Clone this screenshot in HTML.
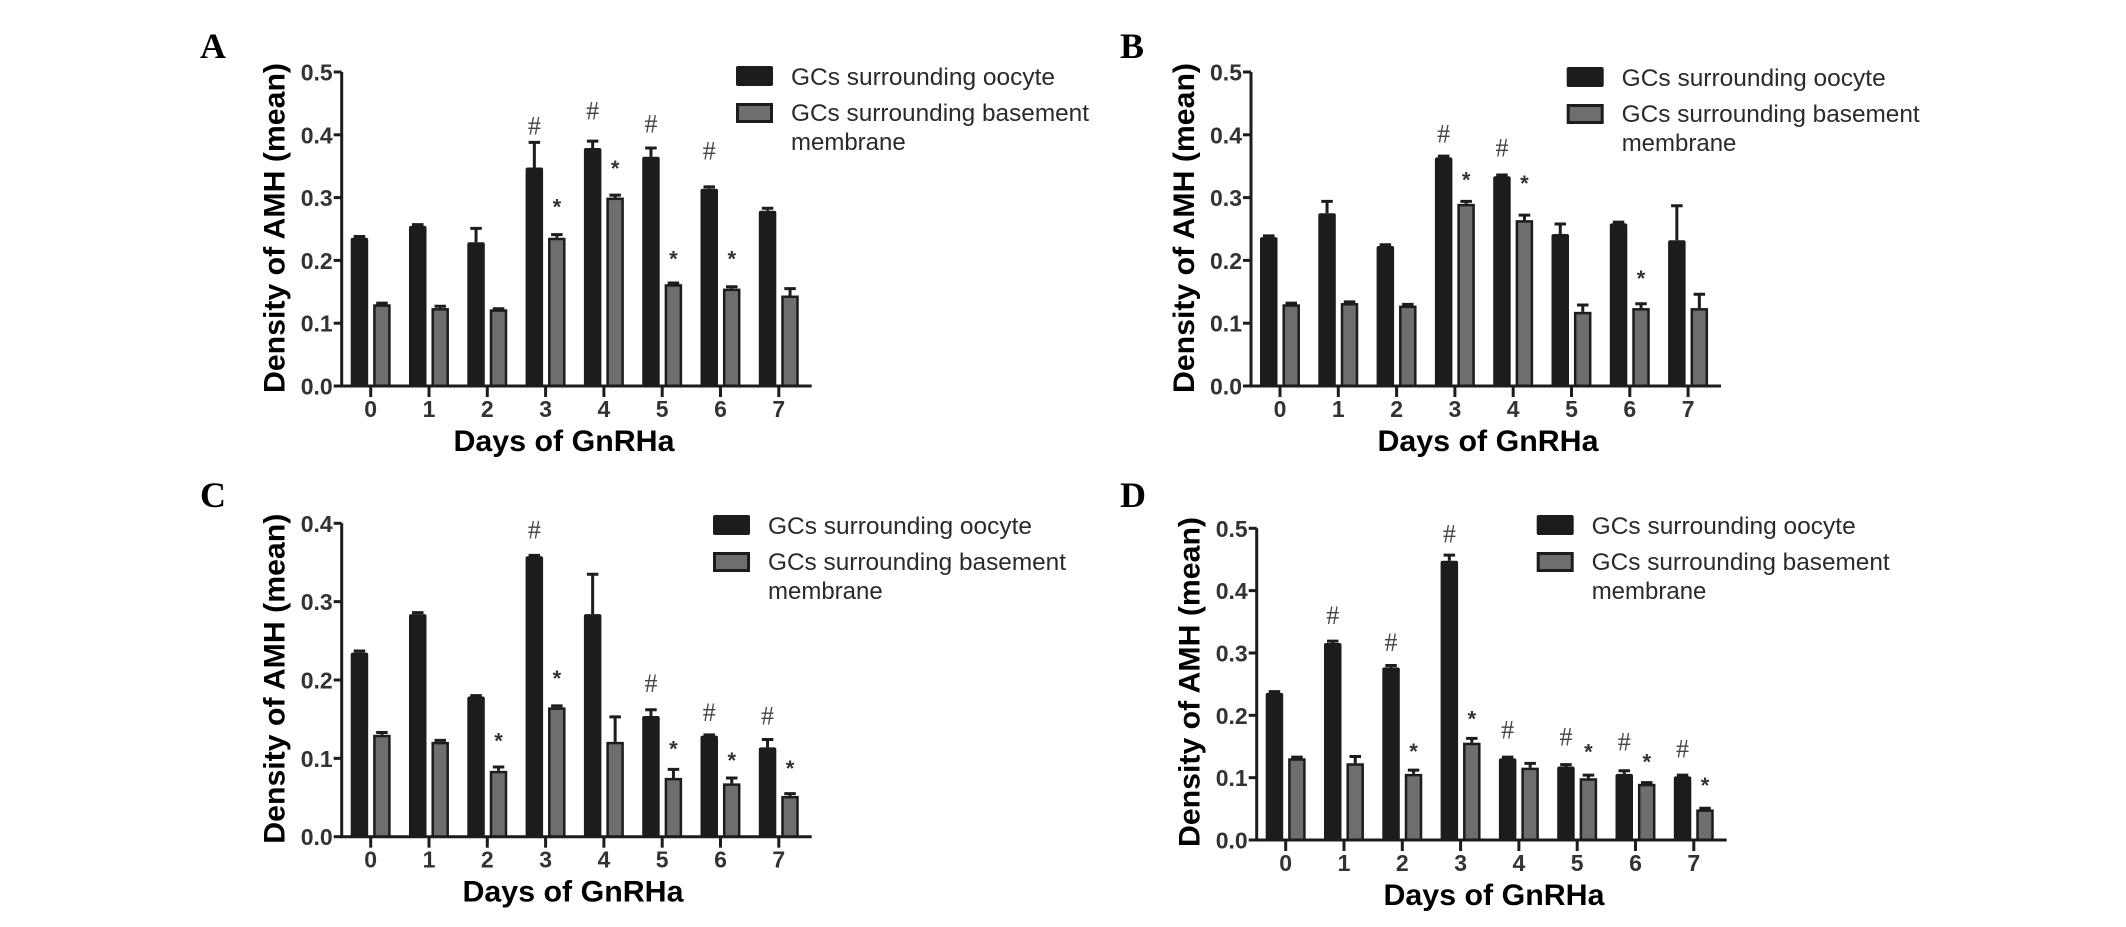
<!DOCTYPE html>
<html><head><meta charset="utf-8"><title>AMH density charts</title>
<style>html,body{margin:0;padding:0;background:#fff;}svg{display:block;}</style></head>
<body>
<svg id="fig" xmlns="http://www.w3.org/2000/svg" width="2126" height="927" viewBox="0 0 2126 927"></svg>
<script>
// ---------- data ----------
const categories = ["0","1","2","3","4","5","6","7"];
const seriesNames = ["GCs surrounding oocyte","GCs surrounding basement"];

const aBlack    = [0.236,0.255,0.229,0.348,0.379,0.365,0.314,0.279];
const aBlackErr = [0.002,0.002,0.022,0.040,0.011,0.014,0.003,0.004];
const aGray     = [0.130,0.124,0.122,0.236,0.300,0.162,0.155,0.144];
const aGrayErr  = [0.002,0.003,0.001,0.005,0.004,0.002,0.003,0.011];
const aHash     = [null,null,null,0.415,0.439,0.418,0.375,null];
const aStar     = [null,null,null,0.294,0.355,0.211,0.211,null];

const bBlack    = [0.237,0.275,0.223,0.364,0.334,0.242,0.259,0.232];
const bBlackErr = [0.002,0.019,0.002,0.002,0.002,0.016,0.002,0.055];
const bGray     = [0.130,0.132,0.128,0.290,0.264,0.118,0.124,0.124];
const bGrayErr  = [0.002,0.002,0.002,0.004,0.008,0.011,0.007,0.022];
const bHash     = [null,null,null,0.402,0.380,null,null,null];
const bStar     = [null,null,null,0.337,0.331,null,0.180,null];

const cBlack    = [0.235,0.284,0.179,0.358,0.284,0.154,0.129,0.114];
const cBlackErr = [0.002,0.002,0.001,0.001,0.051,0.008,0.001,0.010];
const cGray     = [0.130,0.121,0.084,0.165,0.121,0.075,0.068,0.052];
const cGrayErr  = [0.003,0.002,0.005,0.002,0.032,0.011,0.007,0.003];
const cHash     = [null,null,null,0.392,null,0.196,0.159,0.155];
const cStar     = [null,null,0.129,0.209,null,0.119,0.104,0.094];

const dBlack    = [0.236,0.316,0.277,0.448,0.131,0.118,0.106,0.102];
const dBlackErr = [0.002,0.003,0.003,0.009,0.002,0.003,0.005,0.002];
const dGray     = [0.131,0.123,0.106,0.156,0.116,0.099,0.090,0.049];
const dGrayErr  = [0.002,0.011,0.006,0.007,0.007,0.005,0.002,0.002];
const dHash     = [null,0.361,0.318,0.492,0.177,0.166,0.158,0.147];
const dStar     = [null,null,0.151,0.203,null,0.150,0.134,0.096];

const ticksAB = ["0.0","0.1","0.2","0.3","0.4","0.5"];
const ticksC  = ["0.0","0.1","0.2","0.3","0.4"];
const ticksD  = ["0.0","0.1","0.2","0.3","0.4","0.5"];

// ---------- layout ----------
const NS = "http://www.w3.org/2000/svg";
const svg = document.getElementById("fig");
function mk(tag, attrs, parent, text){
  const e = document.createElementNS(NS, tag);
  for (const k in attrs) e.setAttribute(k, attrs[k]);
  if (text !== undefined) e.textContent = text;
  (parent||svg).appendChild(e);
  return e;
}
const panels = [
  {id:"a", letter:"A", lx:200, ly:58, axX:341.7, base:386, top:72, ticks:ticksAB, black:aBlack, bErr:aBlackErr, gray:aGray, gErr:aGrayErr, hash:aHash, star:aStar, legX:736, legY:66, titleCx:564},
  {id:"b", letter:"B", lx:1120, ly:58, axX:1251, base:386, top:72, ticks:ticksAB, black:bBlack, bErr:bBlackErr, gray:bGray, gErr:bGrayErr, hash:bHash, star:bStar, legX:1566.7, legY:67, titleCx:1488},
  {id:"c", letter:"C", lx:200, ly:507, axX:341.7, base:836.7, top:523.3, ticks:ticksC, black:cBlack, bErr:cBlackErr, gray:cGray, gErr:cGrayErr, hash:cHash, star:cStar, legX:713, legY:515, titleCx:573},
  {id:"d", letter:"D", lx:1120, ly:507, axX:1256.7, base:840, top:528.3, ticks:ticksD, black:dBlack, bErr:dBlackErr, gray:dGray, gErr:dGrayErr, hash:dHash, star:dStar, legX:1536.7, legY:515, titleCx:1494}
];
const BLACK = "#1c1c1c", GRAY = "#6e6e6e";

panels.forEach(p => {
  const g = mk("g", {});
  
  
  const ymax = parseFloat(p.ticks[p.ticks.length-1]);
  const y = v => p.base - (v / ymax) * (p.base - p.top);
  const x = i => p.axX + 29 + 58.3 * i;

  const lt = mk("text", {x:p.lx, y:p.ly, "font-family":"Liberation Serif, serif", "font-weight":"bold", "font-size":36, fill:"#000"}, g, p.letter);
  
  

  // bars
  categories.forEach((c, i) => {
    const bx = x(i) - 20, gx = x(i) + 2.5;
    const bb = mk("rect", {x:bx, y:y(p.black[i]), width:17.5, height:p.base - y(p.black[i]), fill:BLACK, rx:2}, g);
    
    
    const be = mk("path", {d:`M${bx+8.75},${y(p.black[i])} V${y(p.black[i]+p.bErr[i])} M${bx+3},${y(p.black[i]+p.bErr[i])} H${bx+14.5}`, stroke:BLACK, "stroke-width":3, fill:"none"}, g);
    
    
    const gb = mk("rect", {x:gx+1.2, y:y(p.gray[i])+1.2, width:15, height:p.base - y(p.gray[i]) - 1.2, fill:GRAY, stroke:BLACK, "stroke-width":2.5}, g);
    
    
    const ge = mk("path", {d:`M${gx+8.75},${y(p.gray[i])} V${y(p.gray[i]+p.gErr[i])} M${gx+3},${y(p.gray[i]+p.gErr[i])} H${gx+14.5}`, stroke:BLACK, "stroke-width":3, fill:"none"}, g);
    
    
    if (p.hash[i] !== null) {
      const h = mk("text", {x:bx+8.75, y:y(p.hash[i])+9, "text-anchor":"middle", "font-family":"Liberation Serif, serif", "font-size":26, fill:"#444"}, g, "#");
      
      
    }
    if (p.star[i] !== null) {
      const s = mk("text", {x:gx+8.75, y:y(p.star[i])+13, "text-anchor":"middle", "font-family":"Liberation Sans, sans-serif", "font-weight":"bold", "font-size":22, fill:"#333"}, g, "*");
      
      
    }
    // x tick
    const xt = mk("line", {x1:x(i), y1:p.base, x2:x(i), y2:p.base+11, stroke:BLACK, "stroke-width":3}, g);
    
    
    const xl = mk("text", {x:x(i), y:p.base+31, "text-anchor":"middle", "font-family":"Liberation Sans, sans-serif", "font-weight":"bold", "font-size":23, fill:"#333"}, g, c);
    
    
  });

  // axes
  const ax = mk("path", {d:`M${p.axX},${p.top} V${p.base} H${p.axX+470}`, stroke:BLACK, "stroke-width":3, fill:"none"}, g);
  
  
  p.ticks.forEach(t => {
    const v = parseFloat(t);
    const yt = mk("line", {x1:p.axX-8, y1:y(v), x2:p.axX, y2:y(v), stroke:BLACK, "stroke-width":3}, g);
    
    
    const yl = mk("text", {x:p.axX-9, y:y(v)+8.5, "text-anchor":"end", "font-family":"Liberation Sans, sans-serif", "font-weight":"bold", "font-size":23, fill:"#333"}, g, t);
    
    
  });

  const cy = p.base - 158;
  const yTitle = mk("text", {x:0, y:0, transform:`translate(${p.axX-57},${cy}) rotate(-90)`, "text-anchor":"middle", "font-family":"Liberation Sans, sans-serif", "font-weight":"bold", "font-size":30, textLength:330, lengthAdjust:"spacingAndGlyphs", fill:"#000"}, g, "Density of AMH (mean)");
  
  
  const xTitle = mk("text", {x:p.titleCx, y:p.base+65, "text-anchor":"middle", "font-family":"Liberation Sans, sans-serif", "font-weight":"bold", "font-size":30, textLength:221, lengthAdjust:"spacingAndGlyphs", fill:"#000"}, g, "Days of GnRHa");
  
  

  // legend
  const lg = mk("g", {}, g);
  
  
  const s1 = mk("rect", {x:p.legX, y:p.legY, width:37, height:20, fill:BLACK, rx:2}, lg);
  
  
  const s2 = mk("rect", {x:p.legX+1.5, y:p.legY+38.5, width:34, height:17, fill:GRAY, stroke:BLACK, "stroke-width":3}, lg);
  
  
  const t1 = mk("text", {x:p.legX+55, y:p.legY+19, "font-family":"Liberation Sans, sans-serif", "font-size":24, textLength:264, lengthAdjust:"spacingAndGlyphs", fill:"#2a2a2a"}, lg, seriesNames[0]);
  
  
  const t2 = mk("text", {x:p.legX+55, y:p.legY+55, "font-family":"Liberation Sans, sans-serif", "font-size":24, textLength:298, lengthAdjust:"spacingAndGlyphs", fill:"#2a2a2a"}, lg, seriesNames[1]);
  
  
  const t3 = mk("text", {x:p.legX+55, y:p.legY+84, "font-family":"Liberation Sans, sans-serif", "font-size":24, fill:"#2a2a2a"}, lg, "membrane");
  
  
});
</script>
</body></html>
